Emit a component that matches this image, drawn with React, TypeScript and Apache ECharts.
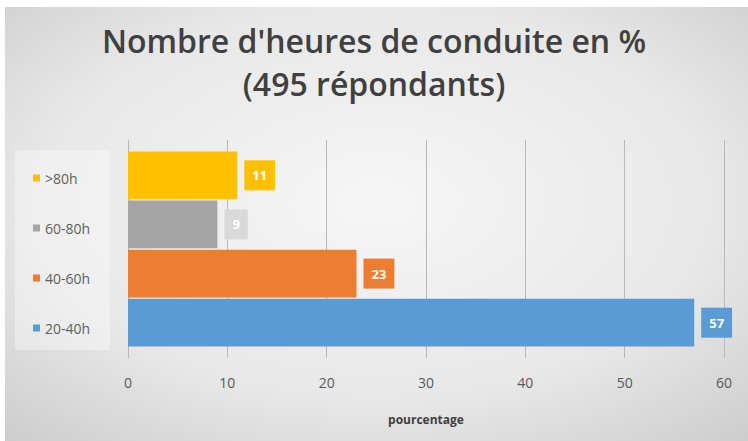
import React, { useEffect, useRef } from "react";
import * as echarts from "echarts";

const titleText = "Nombre d'heures de conduite en %\n(495 répondants)";
const seriesNames = [">80h", "60-80h", "40-60h", "20-40h"];
const seriesValues = [11, 9, 23, 57];
const seriesColors = ["#FFC000", "#A5A5A5", "#ED7D31", "#5B9BD5"];
const labelColors = ["#FFC000", "#D9D9D9", "#ED7D31", "#5B9BD5"];
const categories = ["Heures"];
const axisName = "pourcentage";

export default function App() {
  const ref = useRef<HTMLDivElement>(null);
  useEffect(() => {
    document.body.style.margin = "0";
    const chart = echarts.init(ref.current!, null, { renderer: "svg" });
    const font = "'Open Sans', sans-serif";
    chart.setOption({
      animation: false,
      textStyle: { fontFamily: font },
      graphic: [
        {
          type: "rect",
          z: -10,
          silent: true,
          shape: { x: 5, y: 7, width: 743, height: 434 },
          style: {
            fill: new echarts.graphic.RadialGradient(0.5, 0.45, 0.75, [
              { offset: 0, color: "#f6f6f6" },
              { offset: 0.6, color: "#e8e8e8" },
              { offset: 1, color: "#cccccc" },
            ]),
          },
        },
        {
          type: "rect",
          z: -9,
          silent: true,
          shape: { x: 15, y: 150, width: 95, height: 200 },
          style: { fill: "rgba(255,255,255,0.35)" },
        },
      ],
      title: {
        text: titleText,
        left: "center",
        top: 14,
        padding: [5, 5, 5, 23],
        textStyle: {
          fontFamily: font,
          fontSize: 32,
          fontWeight: 600,
          color: "#404040",
          lineHeight: 43,
        },
      },
      legend: {
        orient: "vertical",
        left: 28,
        top: 166,
        itemWidth: 7,
        itemHeight: 7,
        itemGap: 36,
        icon: "rect",
        data: seriesNames,
        textStyle: { fontFamily: font, fontSize: 14, color: "#606060" },
      },
      grid: { left: 128, right: 24, top: 140, bottom: 83 },
      xAxis: {
        type: "value",
        min: 0,
        max: 60,
        interval: 10,
        name: axisName,
        nameLocation: "middle",
        nameGap: 55,
        nameTextStyle: { fontFamily: font, fontSize: 12, fontWeight: "bold", color: "#404040" },
        axisLine: { show: false },
        axisTick: { show: false },
        axisLabel: { margin: 17, fontSize: 14, color: "#595959", fontFamily: font },
        splitLine: { lineStyle: { color: "#b8b8b8", width: 1 } },
      },
      yAxis: {
        type: "category",
        data: categories,
        axisLine: { show: true, lineStyle: { color: "#b8b8b8" } },
        axisTick: { show: false },
        axisLabel: { show: false },
      },
      series: seriesNames.map((name, i) => ({
        type: "bar",
        name,
        data: [seriesValues[i]],
        barCategoryGap: "10.5%",
        barGap: "3%",
        itemStyle: { color: seriesColors[i] },
        label: {
          show: true,
          position: "right",
          distance: 7,
          color: "#ffffff",
          fontWeight: "bold",
          fontSize: 13,
          fontFamily: font,
          lineHeight: 15,
          backgroundColor: labelColors[i],
          padding: [8, 8, 7, 8],
        },
      })),
    });
    return () => chart.dispose();
  }, []);
  return <div ref={ref} style={{ width: 748, height: 441 }} />;
}
